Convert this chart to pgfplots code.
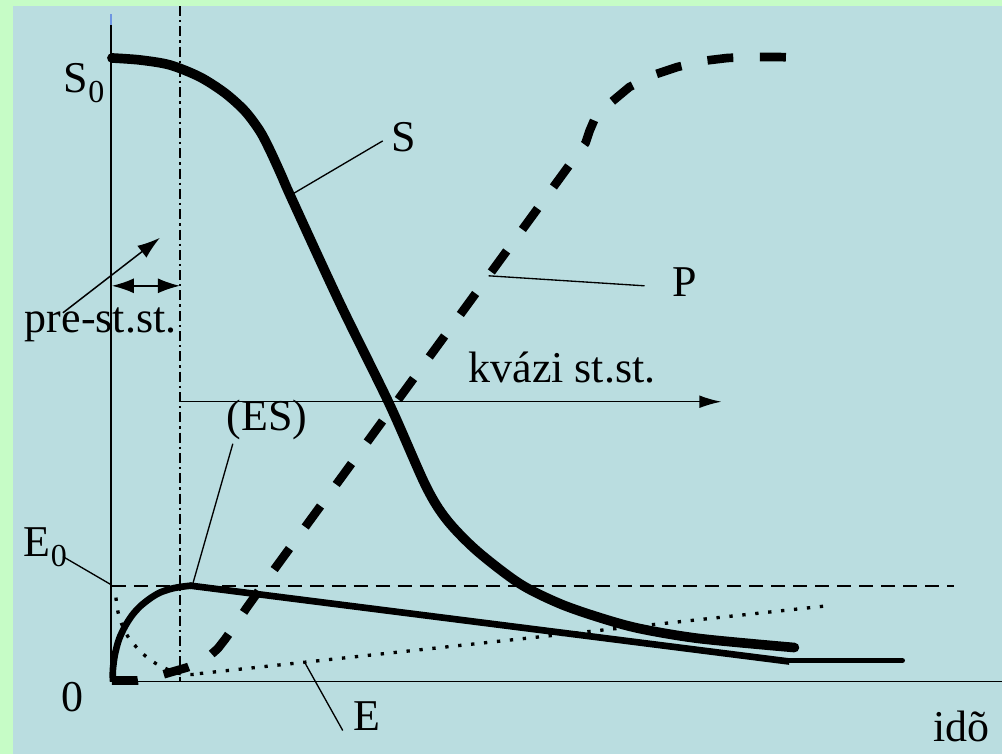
\documentclass[border=0pt]{standalone}
\usepackage{pgfplots}
\pgfplotsset{compat=1.18}
\usetikzlibrary{arrows.meta}
\usepackage{fontspec}
\setmainfont{Liberation Serif}
\definecolor{bgteal}{RGB}{186,221,224}
\definecolor{bggreen}{RGB}{198,252,198}
\definecolor{tickblue}{RGB}{110,150,225}
\tikzset{lbl/.style={anchor=base west, inner sep=0pt, outer sep=0pt,
  font=\fontsize{13.2}{15}\selectfont}}
\newcommand{\sub}[2]{#1\raisebox{#2}{\fontsize{9.6}{11}\selectfont 0}}

\begin{document}
\begin{tikzpicture}
\begin{axis}[
  width=300.9pt, height=226.5pt, scale only axis,
  xmin=0, xmax=1003, ymin=0, ymax=755, y dir=reverse,
  hide axis, clip=false,
]
% slide background
\fill[bggreen] (axis cs:0,0) rectangle (axis cs:1003,755);
\fill[bgteal] (axis cs:13,6) rectangle (axis cs:1003,755);

% axes
\addplot[line width=0.45pt] coordinates {(111,15) (111,682) (1003,682)};
\addplot[tickblue, line width=0.8pt] coordinates {(111,14) (111,25)};

% end of the pre-steady-state phase
\addplot[line width=0.7pt, dash pattern=on 3pt off 1.2pt on 0.7pt off 1.2pt]
  coordinates {(180,6) (180,682)};

% total enzyme level E0
\addplot[line width=0.6pt, dash pattern=on 4.2pt off 2.4pt]
  coordinates {(112,586) (955,586)};

% substrate S
\addplot[line width=2.9pt, line cap=round, line join=round, smooth, tension=0.5]
  coordinates {(112,58) (140,60) (170,65) (200,77) (225,93) (245,111)
    (260,131) (270,150) (281,174) (292,199) (340,303) (390,405) (426,486)
    (447,520) (477,551) (520,584) (560,604) (600,618) (640,629) (700,639)
    (795,648)};

% product P
\addplot[line width=2.6pt, dash pattern=on 7.8pt off 8pt, line join=round]
  coordinates {(112,681) (137,681) (150,679) (163,675) (187,668) (200,663)
    (209,657) (218,649) (225,640) (230,633) (247,608) (267,580) (586,143)
    (590,131) (596,117) (612,102) (630,87) (654,75) (678,67) (703,61)
    (728,58) (753,57) (779,57) (804,58)};

% enzyme-substrate complex (ES)
\addplot[line width=2pt, line join=round, smooth, tension=0.5]
  coordinates {(113,682) (113,670) (115,655) (119,640) (125,627) (132,616)
    (140,607) (150,599) (160,593) (172,589) (183,587) (192,586)};
\addplot[line width=2pt] coordinates {(190,586) (790,662)};
\addplot[line width=1.6pt, line cap=round] coordinates {(785,661) (903,661)};

% free enzyme E
\addplot[line width=1pt, dash pattern=on 1pt off 2.9pt, smooth, tension=0.5]
  coordinates {(116,598) (118,612) (122,625) (128,637) (136,647) (145,656)
    (156,664) (168,670) (180,674) (192,675) (200,674)};
\addplot[line width=1pt, dash pattern=on 1pt off 2.9pt]
  coordinates {(200,674) (830,606)};

% arrows
\draw[line width=0.45pt, -{Latex[length=6.6pt,width=3.8pt]}]
  (axis cs:180,402) -- (axis cs:722,402);
\draw[line width=0.45pt, {Latex[length=6.6pt,width=4.5pt]}-{Latex[length=6.6pt,width=4.5pt]}]
  (axis cs:112,286) -- (axis cs:180,286);
\draw[line width=0.45pt, -{Latex[length=6.8pt,width=4.5pt]}]
  (axis cs:63,313) -- (axis cs:160,238);

% leader lines
\draw[line width=0.4pt] (axis cs:293,194) -- (axis cs:383,141);
\draw[line width=0.4pt] (axis cs:489,276) -- (axis cs:645,286);
\draw[line width=0.4pt] (axis cs:233,444) -- (axis cs:193,584);
\draw[line width=0.4pt] (axis cs:63,557) -- (axis cs:111,585);
\draw[line width=0.4pt] (axis cs:343,731) -- (axis cs:305,663);

% labels
\node[lbl] at (axis cs:64,93) {\sub{S}{-2.8pt}};
\node[lbl] at (axis cs:392,152) {S};
\node[lbl] at (axis cs:673,297) {P};
\node[lbl] at (axis cs:25,333) {pre-st.st.};
\node[lbl] at (axis cs:469,383) {kvázi st.st.};
\node[lbl] at (axis cs:227,431) {(ES)};
\node[lbl] at (axis cs:24,557) {\sub{E}{-3pt}};
\node[lbl] at (axis cs:62,712) {0};
\node[lbl] at (axis cs:354,731) {E};
\node[lbl] at (axis cs:934,742) {idõ};
\end{axis}
\end{tikzpicture}
\end{document}
